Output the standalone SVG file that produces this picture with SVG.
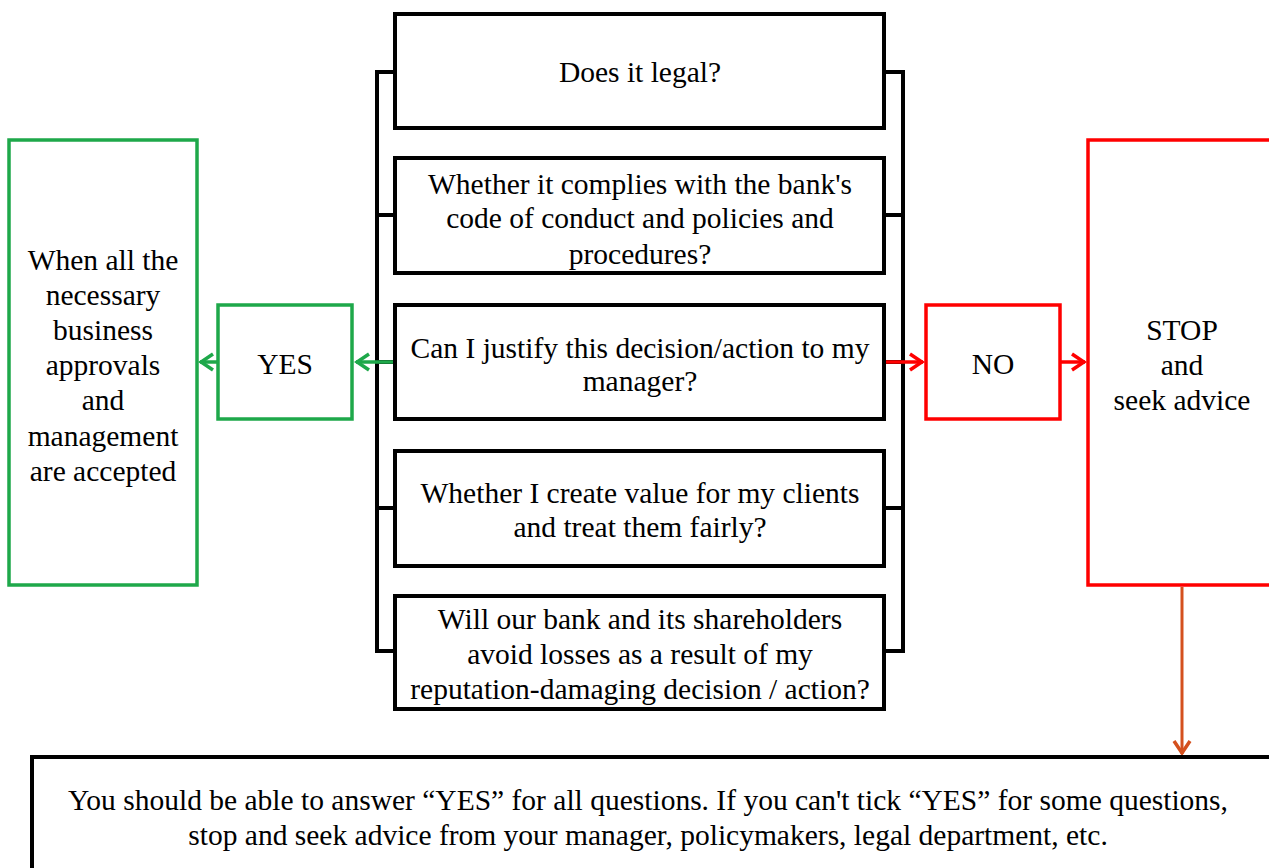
<svg xmlns="http://www.w3.org/2000/svg" width="1269" height="868" viewBox="0 0 1269 868">
<style>
.t{font-family:"Liberation Serif","Times New Roman",serif;font-size:29.5px;fill:#000;text-anchor:middle}
.bk{fill:#fff;stroke:#000;stroke-width:4}
.gr{fill:#fff;stroke:#1ea84a;stroke-width:3.5}
.rd{fill:#fff;stroke:#ff0000;stroke-width:3.5}
.br{fill:none;stroke:#000;stroke-width:4;stroke-linejoin:miter}
</style>
<defs>
<marker id="ag" viewBox="0 0 20 20" refX="18" refY="10" markerWidth="20" markerHeight="20" markerUnits="userSpaceOnUse" orient="auto"><path d="M5,2 L17,10 L5,18" fill="none" stroke="#1ea84a" stroke-width="3.5"/></marker>
<marker id="ar" viewBox="0 0 20 20" refX="18" refY="10" markerWidth="20" markerHeight="20" markerUnits="userSpaceOnUse" orient="auto"><path d="M5,2 L17,10 L5,18" fill="none" stroke="#ff0000" stroke-width="3.5"/></marker>
<marker id="ao" viewBox="0 0 20 20" refX="18" refY="10" markerWidth="20" markerHeight="20" markerUnits="userSpaceOnUse" orient="auto"><path d="M5,2 L17,10 L5,18" fill="none" stroke="#d4501e" stroke-width="3.5"/></marker>
</defs>
<rect width="1269" height="868" fill="#fff"/>
<g id="connectors">
<path class="br" d="M395,72 H377 V651 H395 M377,215 H395 M377,362 H395 M377,508 H395"/>
<path class="br" d="M884,72 H903 V651 H884 M884,215 H903 M884,362 H903 M884,508 H903"/>
<line x1="395" y1="362" x2="356" y2="362" stroke="#1ea84a" stroke-width="3.5" marker-end="url(#ag)"/>
<line x1="218" y1="362" x2="200" y2="362" stroke="#1ea84a" stroke-width="3.5" marker-end="url(#ag)"/>
<line x1="884" y1="362" x2="923" y2="362" stroke="#ff0000" stroke-width="3.5" marker-end="url(#ar)"/>
<line x1="1060" y1="362" x2="1085" y2="362" stroke="#ff0000" stroke-width="3.5" marker-end="url(#ar)"/>
<line x1="1182" y1="587" x2="1182" y2="754" stroke="#d4501e" stroke-width="3" marker-end="url(#ao)"/>
</g>
<g id="q1"><rect class="bk" x="395" y="14" width="489" height="114"/><text class="t" x="640" y="82">Does it legal?</text></g>
<g id="q2"><rect class="bk" x="395" y="158" width="489" height="115"/><text class="t" x="640" y="194">Whether it complies with the bank's</text><text class="t" x="640" y="228">code of conduct and policies and</text><text class="t" x="640" y="264">procedures?</text></g>
<g id="q3"><rect class="bk" x="395" y="305" width="489" height="114"/><text class="t" x="640" y="358">Can I justify this decision/action to my</text><text class="t" x="640" y="391">manager?</text></g>
<g id="q4"><rect class="bk" x="395" y="451" width="489" height="115"/><text class="t" x="640" y="503">Whether I create value for my clients</text><text class="t" x="640" y="537">and treat them fairly?</text></g>
<g id="q5"><rect class="bk" x="395" y="596" width="489" height="113"/><text class="t" x="640" y="629">Will our bank and its shareholders</text><text class="t" x="640" y="664">avoid losses as a result of my</text><text class="t" x="640" y="699">reputation-damaging decision / action?</text></g>
<g id="yes"><rect class="gr" x="218" y="305" width="134" height="114"/><text class="t" x="285" y="374">YES</text></g>
<g id="accepted"><rect class="gr" x="9" y="140" width="188" height="445"/>
<text class="t" x="103" y="270">When all the</text><text class="t" x="103" y="305">necessary</text><text class="t" x="103" y="340">business</text><text class="t" x="103" y="375">approvals</text><text class="t" x="103" y="410">and</text><text class="t" x="103" y="446">management</text><text class="t" x="103" y="481">are accepted</text></g>
<g id="no"><rect class="rd" x="926" y="305" width="134" height="114"/><text class="t" x="993" y="374">NO</text></g>
<g id="stop"><rect class="rd" x="1088" y="140" width="200" height="445"/><text class="t" x="1182" y="340">STOP</text><text class="t" x="1182" y="375">and</text><text class="t" x="1182" y="410">seek advice</text></g>
<g id="note"><rect class="bk" x="32" y="757" width="1260" height="130"/><text class="t" x="648" y="810">You should be able to answer “YES” for all questions. If you can't tick “YES” for some questions,</text><text class="t" x="648" y="845">stop and seek advice from your manager, policymakers, legal department, etc.</text></g>
</svg>
